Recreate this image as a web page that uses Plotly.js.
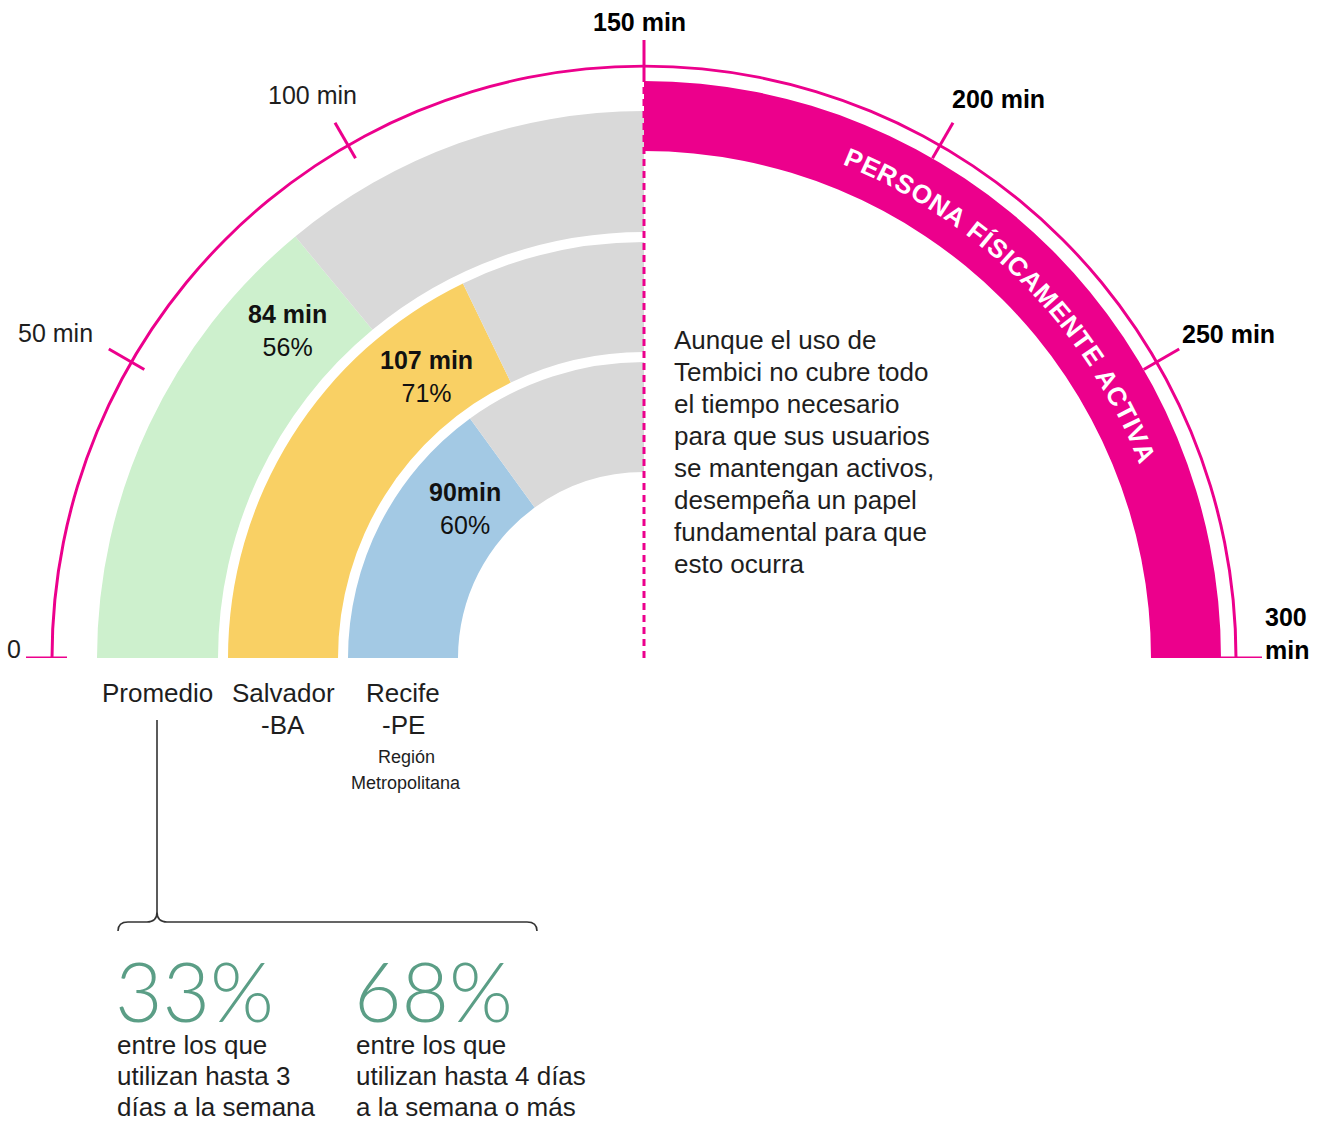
<!DOCTYPE html>
<html><head><meta charset="utf-8">
<script src="https://cdn.plot.ly/plotly-3.0.1.min.js"></script>
<style>html,body{margin:0;padding:0;background:#fff;} #chart{width:1324px;height:1122px;}</style>
</head><body><div id="chart"></div>
<script>
// ---------------- data ----------------
const categories = ['Promedio', 'Salvador|-BA', 'Recife|-PE'];
const subLabels = ['', '', 'Región|Metropolitana'];
const minutes = [84, 107, 90];
const valueLabels = ['84 min', '107 min', '90min'];
const percents = [56, 71, 60];
const goalMin = 150;
const maxMin = 300;
const tickVals = [0, 50, 100, 150, 200, 250, 300];
const tickLabels = ['0', '50 min', '100 min', '150 min', '200 min', '250 min', '300<br>min'];
const activeLabel = 'PERSONA FÍSICAMENTE ACTIVA';
const noteLines = ['Aunque el uso de', 'Tembici no cubre todo', 'el tiempo necesario', 'para que sus usuarios',
  'se mantengan activos,', 'desempeña un papel', 'fundamental para que', 'esto ocurra'];
const groupPcts = [33, 68];
const groupTexts = [['entre los que', 'utilizan hasta 3', 'días a la semana'],
                    ['entre los que', 'utilizan hasta 4 días', 'a la semana o más']];

// ---------------- styles / geometry ----------------
const W = 1324, H = 1122, CX = 644, CY = 658, RMAX = 640;
const PINK = '#ec008c', GREY = '#d9d9d9', TXT = '#1e1e1e', TEAL = '#5b9e86';
const FONT = 'Liberation Sans, Arial, Helvetica, sans-serif';
const ringStyle = [
  {inner: 426, outer: 547, color: '#cdf0cd'},
  {inner: 306, outer: 416, color: '#f9d064'},
  {inner: 186, outer: 296, color: '#a3c9e4'}
];
const band = {inner: 507, outer: 577};
const arcR = 592, tickIn = 577, tickOut = 618;
const tickLabelPos = [{m: 1.4, r: 630}, {m: 48.2, r: 672}, {m: 99.2, r: 653}, {m: 149.3, r: 636},
  {m: 203.9, r: 662}, {m: 251.6, r: 668}, {m: 296.4, r: 643}];
const valueLabelPos = [{m: 71, r: 484}, {m: 87.1, r: 356}, {m: 66.6, r: 233.5}];
const bandText = {start: 186.5, end: 264.5, r: 541, size: 26};

const deg = m => m / maxMin * 180;
const pt = (m, r) => { const a = m / maxMin * Math.PI; return {x: CX - r * Math.cos(a), y: CY - r * Math.sin(a)}; };

// ---------------- traces ----------------
const traces = [];
const barBase = {type: 'barpolar', hoverinfo: 'skip', showlegend: false};
ringStyle.forEach((s, i) => {
  traces.push(Object.assign({}, barBase, {
    theta: [deg(minutes[i] / 2)], width: [deg(minutes[i])], base: [s.inner], r: [s.outer - s.inner],
    marker: {color: s.color, line: {width: 0}}
  }));
  traces.push(Object.assign({}, barBase, {
    theta: [deg((minutes[i] + goalMin) / 2)], width: [deg(goalMin - minutes[i])], base: [s.inner], r: [s.outer - s.inner],
    marker: {color: GREY, line: {width: 0}}
  }));
});
// active band 150-300
traces.push(Object.assign({}, barBase, {
  theta: [deg((goalMin + maxMin) / 2)], width: [deg(maxMin - goalMin)], base: [band.inner], r: [band.outer - band.inner],
  marker: {color: PINK, line: {width: 0}}
}));
// outer scale arc
traces.push(Object.assign({}, barBase, {
  theta: [deg(maxMin / 2)], width: [deg(maxMin)], base: [arcR - 1.5], r: [3],
  marker: {color: PINK, line: {width: 0}}
}));
// ticks
const tr = [], tt = [];
tickVals.forEach(v => { tr.push(tickIn, tickOut, null); tt.push(deg(v), deg(v), null); });
traces.push({type: 'scatterpolar', mode: 'lines', r: tr, theta: tt, line: {color: PINK, width: 3},
  hoverinfo: 'skip', showlegend: false, connectgaps: false});
// dashed goal line
traces.push({type: 'scatterpolar', mode: 'lines', r: [0, tickIn], theta: [deg(goalMin), deg(goalMin)],
  line: {color: PINK, width: 3, dash: '7px,5px'}, hoverinfo: 'skip', showlegend: false});
// dummy cartesian trace for pixel overlay
traces.push({type: 'scatter', x: [0], y: [0], mode: 'markers', marker: {opacity: 0}, hoverinfo: 'skip', showlegend: false});

// ---------------- annotations ----------------
const ann = [];
const A = (o) => ann.push(Object.assign({xref: 'x', yref: 'y', showarrow: false, xanchor: 'center', yanchor: 'middle'}, o));

// tick labels
tickVals.forEach((v, i) => {
  const p = pt(tickLabelPos[i].m, tickLabelPos[i].r);
  const bold = v >= goalMin;
  A({x: p.x, y: p.y, text: tickLabels[i], align: 'left',
     font: {family: FONT, size: 25, color: bold ? '#000' : TXT, weight: bold ? 700 : 400}});
});

// value labels
minutes.forEach((m, i) => {
  const p = pt(valueLabelPos[i].m, valueLabelPos[i].r);
  A({x: p.x, y: p.y, text: '<b>' + valueLabels[i] + '</b><br>' + percents[i] + '%',
     font: {family: FONT, size: 25, color: '#111'}});
});

// category labels
categories.forEach((c, i) => {
  const rm = (ringStyle[i].inner + ringStyle[i].outer) / 2;
  const x = CX - rm;
  c.split('|').forEach((line, k) => A({x: x, y: 693 + 32 * k, text: line, font: {family: FONT, size: 26, color: TXT}}));
  if (subLabels[i]) subLabels[i].split('|').forEach((line, k) =>
    A({x: x + 3, y: 757 + 26 * k, text: line, font: {family: FONT, size: 18, color: TXT}}));
});

// note paragraph
noteLines.forEach((line, k) => A({x: 672, y: 340 + 32 * k, xanchor: 'left', text: line, font: {family: FONT, size: 26, color: TXT}}));

// group percentages
const gx = [113, 352];
groupPcts.forEach((g, i) => {
  A({x: gx[i], y: 990, xanchor: 'left', height: 72, text: g + '%',
     font: {family: 'Lato, Open Sans, sans-serif', size: 82, color: TEAL, weight: 300}});
  groupTexts[i].forEach((line, k) => A({x: gx[i] + 2, y: 1045 + 31 * k, xanchor: 'left', text: line, font: {family: FONT, size: 26, color: TXT}}));
});

// curved text along the active band
(function () {
  const ctx = document.createElement('canvas').getContext('2d');
  ctx.font = 'bold ' + bandText.size + 'px "Liberation Sans"';
  const chars = Array.from(activeLabel);
  const ws = chars.map(c => ctx.measureText(c).width);
  const sumW = ws.reduce((a, b) => a + b, 0);
  const phi0 = (bandText.start - goalMin) / maxMin * Math.PI;
  const phi1 = (bandText.end - goalMin) / maxMin * Math.PI;
  const L = (phi1 - phi0) * bandText.r;
  const gap = (L - sumW) / (chars.length - 1);
  let s = 0;
  chars.forEach((c, i) => {
    const center = s + ws[i] / 2;
    s += ws[i] + gap;
    if (c === ' ') return;
    const phi = phi0 + center / bandText.r;
    A({x: CX + bandText.r * Math.sin(phi), y: CY - bandText.r * Math.cos(phi), text: c,
       textangle: phi * 180 / Math.PI, font: {family: FONT, size: bandText.size, color: '#fff', weight: 700}});
  });
})();

// bracket
const shapes = [{type: 'path', xref: 'x', yref: 'y', layer: 'above',
  path: 'M 157 720 L 157 912 Q 157 922 147 922 L 128 922 Q 118 922 118 931 M 157 912 Q 157 922 167 922 L 527 922 Q 537 922 537 931',
  line: {color: '#333', width: 1.6}}];

const layout = {
  width: W, height: H, autosize: false, margin: {l: 0, r: 0, t: 0, b: 0, pad: 0},
  paper_bgcolor: '#fff', plot_bgcolor: 'rgba(0,0,0,0)', showlegend: false,
  xaxis: {range: [0, W], domain: [0, 1], visible: false, fixedrange: true},
  yaxis: {range: [H, 0], domain: [0, 1], visible: false, fixedrange: true},
  polar: {
    domain: {x: [(CX - RMAX) / W, (CX + RMAX) / W], y: [(H - CY) / H, (H - CY + RMAX) / H]},
    sector: [0, 180], bgcolor: 'rgba(0,0,0,0)', hole: 0,
    radialaxis: {range: [0, RMAX], visible: false, showgrid: false},
    angularaxis: {rotation: 180, direction: 'clockwise', visible: false, showgrid: false}
  },
  annotations: ann, shapes: shapes
};
Plotly.newPlot('chart', traces, layout, {displayModeBar: false, staticPlot: true});
</script></body></html>
